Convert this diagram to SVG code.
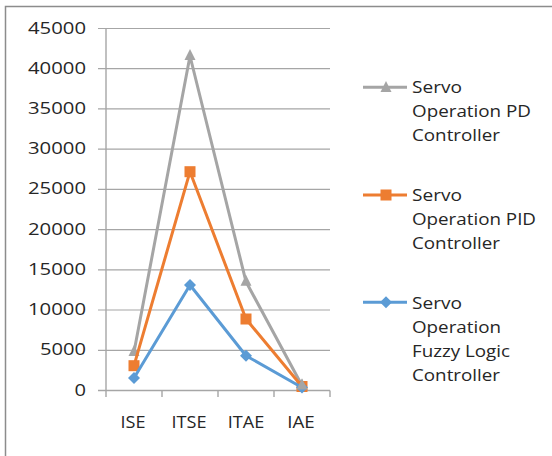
<svg xmlns="http://www.w3.org/2000/svg" xmlns:xlink="http://www.w3.org/1999/xlink" width="552" height="456" viewBox="0 0 552 456">
  <style>
    .frame { stroke: #8c8c8c; stroke-width: 1.5; fill: none; }
    .grid { stroke: #a6a6a6; stroke-width: 1.2; fill: none; }
    .axis { stroke: #a6a6a6; stroke-width: 1.4; fill: none; }
    text { font-family: "Open Sans", "Liberation Sans", sans-serif; font-size: 16.5px; fill: #262626; }
    .ylab { text-anchor: end; }
    .xlab { text-anchor: middle; }
    .pd { stroke: #a5a5a5; stroke-width: 3; fill: none; stroke-linejoin: round; }
    .pid { stroke: #ed7d31; stroke-width: 3; fill: none; stroke-linejoin: round; }
    .fz { stroke: #5b9bd5; stroke-width: 3; fill: none; stroke-linejoin: round; }
  </style>
  <defs>
    <polygon id="tri" points="0,-7 5.5,4 -5.5,4" fill="#a5a5a5"/>
    <rect id="sq" x="-5.5" y="-5.5" width="11" height="11" fill="#ed7d31"/>
    <polygon id="dia" points="0,-6 6,0 0,6 -6,0" fill="#5b9bd5"/>
  </defs>
  <rect width="552" height="456" fill="#ffffff"/>

  <!-- outer chart border (top and left edges visible) -->
  <path class="frame" d="M5.5,456 V6.5 H552"/>

  <!-- gridlines and axes -->
  <g id="axes">
    <path class="grid" d="M98,28.5 H330 M98,68.7 H330 M98,108.9 H330 M98,149.1 H330 M98,189.4 H330 M98,229.6 H330 M98,269.8 H330 M98,310 H330 M98,350.3 H330"/>
    <path class="axis" d="M106,28.5 V390.5 M98,390.5 H330 M106,390.5 V397 M162,390.5 V397 M218,390.5 V397 M274,390.5 V397 M330,390.5 V397"/>
    <g id="y-labels">
      <text class="ylab" x="86" y="33.5" textLength="58" lengthAdjust="spacingAndGlyphs">45000</text>
      <text class="ylab" x="86" y="73.7" textLength="58" lengthAdjust="spacingAndGlyphs">40000</text>
      <text class="ylab" x="86" y="113.9" textLength="58" lengthAdjust="spacingAndGlyphs">35000</text>
      <text class="ylab" x="86" y="154.1" textLength="58" lengthAdjust="spacingAndGlyphs">30000</text>
      <text class="ylab" x="86" y="194.4" textLength="58" lengthAdjust="spacingAndGlyphs">25000</text>
      <text class="ylab" x="86" y="234.6" textLength="58" lengthAdjust="spacingAndGlyphs">20000</text>
      <text class="ylab" x="86" y="274.8" textLength="58" lengthAdjust="spacingAndGlyphs">15000</text>
      <text class="ylab" x="86" y="315" textLength="58" lengthAdjust="spacingAndGlyphs">10000</text>
      <text class="ylab" x="86" y="355.3" textLength="46" lengthAdjust="spacingAndGlyphs">5000</text>
      <text class="ylab" x="86" y="395.5" textLength="11.5" lengthAdjust="spacingAndGlyphs">0</text>
    </g>
    <g id="x-labels">
      <text class="xlab" x="133" y="428" textLength="25" lengthAdjust="spacingAndGlyphs">ISE</text>
      <text class="xlab" x="189" y="428" textLength="35" lengthAdjust="spacingAndGlyphs">ITSE</text>
      <text class="xlab" x="246" y="428" textLength="36.5" lengthAdjust="spacingAndGlyphs">ITAE</text>
      <text class="xlab" x="301" y="428" textLength="27.5" lengthAdjust="spacingAndGlyphs">IAE</text>
    </g>
  </g>

  <!-- data series -->
  <g id="series-pd">
    <polyline class="pd" points="134,352 190,56 246,281.7 302,385.5"/>
    <use xlink:href="#tri" x="134" y="352"/>
    <use xlink:href="#tri" x="190" y="56"/>
    <use xlink:href="#tri" x="246" y="281.7"/>
    <use xlink:href="#tri" x="302" y="385.5"/>
  </g>
  <g id="series-pid">
    <polyline class="pid" points="134,365.7 190,171.7 246,319 302,386.5"/>
    <use xlink:href="#sq" x="134" y="365.7"/>
    <use xlink:href="#sq" x="190" y="171.7"/>
    <use xlink:href="#sq" x="246" y="319"/>
    <use xlink:href="#sq" x="302" y="386.5"/>
  </g>
  <g id="series-fuzzy">
    <polyline class="fz" points="134,378 190,285 246,355.7 302,387.5"/>
    <use xlink:href="#dia" x="134" y="378"/>
    <use xlink:href="#dia" x="190" y="285"/>
    <use xlink:href="#dia" x="246" y="355.7"/>
    <use xlink:href="#dia" x="302" y="387.5"/>
  </g>
  <!-- PD markers drawn on top at IAE where series overlap -->
  <use xlink:href="#tri" x="302" y="385.5"/>

  <!-- legend -->
  <g id="legend">
    <g id="legend-pd">
      <path class="pd" d="M363,87.3 H407"/>
      <use xlink:href="#tri" x="386" y="88"/>
      <text x="412" y="93" textLength="50" lengthAdjust="spacingAndGlyphs">Servo</text>
      <text x="412" y="117" textLength="119" lengthAdjust="spacingAndGlyphs">Operation PD</text>
      <text x="412" y="141" textLength="88" lengthAdjust="spacingAndGlyphs">Controller</text>
    </g>
    <g id="legend-pid">
      <path class="pid" d="M363,195 H407"/>
      <use xlink:href="#sq" x="386" y="195"/>
      <text x="412" y="201" textLength="50" lengthAdjust="spacingAndGlyphs">Servo</text>
      <text x="412" y="225" textLength="124" lengthAdjust="spacingAndGlyphs">Operation PID</text>
      <text x="412" y="249" textLength="88" lengthAdjust="spacingAndGlyphs">Controller</text>
    </g>
    <g id="legend-fuzzy">
      <path class="fz" d="M363,302.3 H407"/>
      <use xlink:href="#dia" x="386" y="302.3"/>
      <text x="412" y="308.5" textLength="50" lengthAdjust="spacingAndGlyphs">Servo</text>
      <text x="412" y="332.5" textLength="89" lengthAdjust="spacingAndGlyphs">Operation</text>
      <text x="412" y="356.5" textLength="98" lengthAdjust="spacingAndGlyphs">Fuzzy Logic</text>
      <text x="412" y="380.5" textLength="88" lengthAdjust="spacingAndGlyphs">Controller</text>
    </g>
  </g>
</svg>
